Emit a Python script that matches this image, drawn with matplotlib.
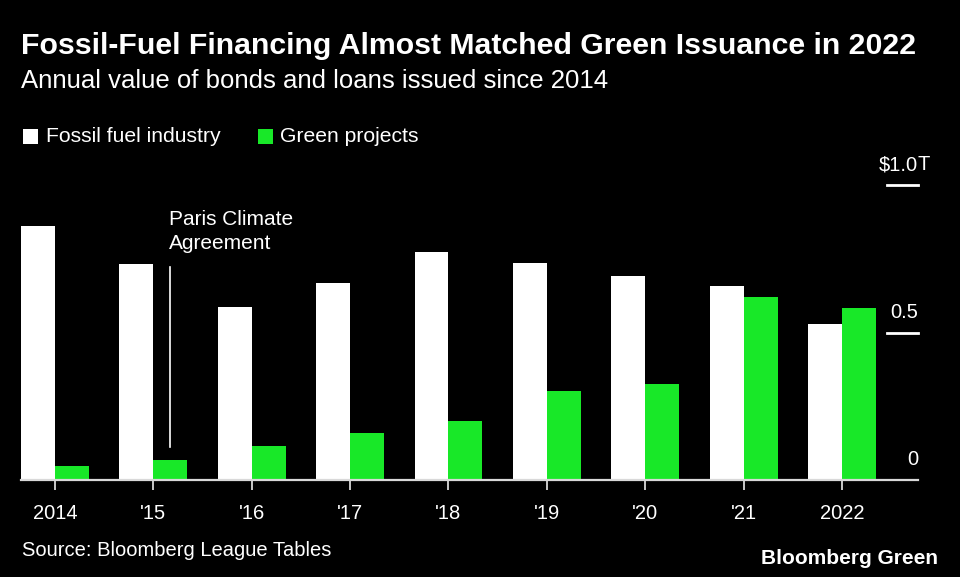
import matplotlib
matplotlib.use("Agg")
import matplotlib.pyplot as plt
import matplotlib.transforms as mtransforms
from matplotlib.patches import Rectangle
import numpy as np

years = ["2014", "'15", "'16", "'17", "'18", "'19", "'20", "'21", "2022"]
fossil = [0.863, 0.733, 0.586, 0.668, 0.773, 0.738, 0.692, 0.657, 0.531]
green = [0.049, 0.069, 0.114, 0.160, 0.200, 0.301, 0.327, 0.622, 0.583]
ytick_vals = [0, 0.5, 1.0]
ytick_labels = ["0", "0.5", "$1.0"]
ytick_suffix = ["", "", "T"]

BG = "#000000"
WHITE = "#ffffff"
GREEN = "#18e828"
GRID = "#d9d9d9"

W, H = 960, 577
fig = plt.figure(figsize=(W / 100, H / 100), dpi=100, facecolor=BG)

REG = ["Liberation Sans", "DejaVu Sans"]

def px(x, y):
    return x / W, 1 - y / H

# axes: x from 21 to 918 px, y baseline 480, 1.0 at 185.4
ax_left, ax_right = 21, 918
ax_bottom, ax_top = 480, 185.4
ax = fig.add_axes([ax_left / W, 1 - ax_bottom / H, (ax_right - ax_left) / W, (ax_bottom - ax_top) / H])
ax.set_facecolor(BG)

n = len(years)
x = np.arange(n)
bw = 0.345
ax.bar(x - bw / 2, fossil, width=bw, color=WHITE, linewidth=0, zorder=2)
ax.bar(x + bw / 2, green, width=bw, color=GREEN, linewidth=0, zorder=2)

ax.set_xlim(-bw, n - 1 + 0.772)
ax.set_ylim(0, 1.0)
for s in ax.spines.values():
    s.set_visible(False)
ax.axhline(0, color=GRID, lw=1.6, zorder=3, clip_on=False)

ax.set_xticks(x)
ax.set_xticklabels(years, family=REG, fontsize=14.5, color=WHITE)
ax.tick_params(axis="x", length=7, width=1.3, color=GRID, pad=10)
ax.set_yticks([])

# right-side value labels with short rules
xr = n - 1 + 0.772
rule_len = 31 / 98.4
for v, lab, suf in zip(ytick_vals, ytick_labels, ytick_suffix):
    if v > 0:
        ax.plot([xr - rule_len, xr], [v, v], color=WHITE, lw=2, clip_on=False, zorder=3)
    off = mtransforms.offset_copy(ax.transData, fig=fig, x=0, y=11, units="dots")
    ax.text(xr, v, lab, transform=off, ha="right", va="bottom", color=WHITE,
            fontsize=14.5, family=REG)
    if suf:
        ax.text(xr, v, suf, transform=off, ha="left", va="bottom", color=WHITE,
                fontsize=14.5, family=REG)

# Paris annotation
px_line = 1 + bw / 2
ax.plot([px_line, px_line], [0.112, 0.723], color=WHITE, lw=1.2, zorder=3)
ax.text(px_line - 0.01, 0.915, "Paris Climate\nAgreement", color=WHITE, fontsize=15,
        family=REG, ha="left", va="top", linespacing=1.3)

# Titles
fig.text(*px(21, 46), "Fossil-Fuel Financing Almost Matched Green Issuance in 2022",
         color=WHITE, fontsize=21.8, fontweight="bold", family=REG, ha="left", va="center")
fig.text(*px(21, 81), "Annual value of bonds and loans issued since 2014",
         color=WHITE, fontsize=18.5, family=REG, ha="left", va="center")

# Legend
fig.patches.append(Rectangle(px(23, 144), 15 / W, 15 / H, transform=fig.transFigure,
                             facecolor=WHITE, edgecolor="none"))
fig.text(*px(46, 137), "Fossil fuel industry", color=WHITE, fontsize=15.2, family=REG,
         ha="left", va="center")
fig.patches.append(Rectangle(px(258, 144), 15 / W, 15 / H, transform=fig.transFigure,
                             facecolor=GREEN, edgecolor="none"))
fig.text(*px(280, 137), "Green projects", color=WHITE, fontsize=15.2, family=REG,
         ha="left", va="center")

# Footer
fig.text(*px(22, 551), "Source: Bloomberg League Tables", color=WHITE, fontsize=14.5,
         family=REG, ha="left", va="center")
fig.text(*px(938, 558), "Bloomberg Green", color=WHITE, fontsize=15, fontweight="bold",
         family=REG, ha="right", va="center")

fig.savefig("out.png", dpi=100, facecolor=BG)
